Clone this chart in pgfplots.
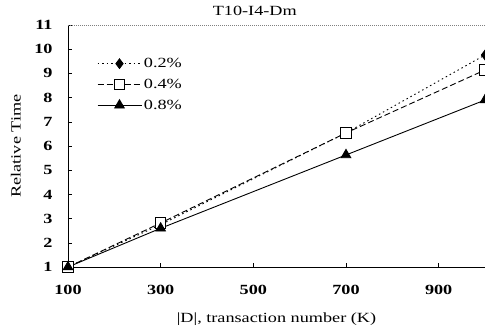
\documentclass[border=0pt]{standalone}
\usepackage{fontspec}
\setmainfont{Liberation Serif}
\usepackage{graphicx}
\usepackage{pgfplots}
\pgfplotsset{compat=1.18}
\newcommand{\wide}[1]{\scalebox{1.3}[1]{#1}}
\begin{document}
\begin{tikzpicture}
\begin{axis}[
 name=ax,
 scale only axis, width=417pt, height=242pt,
 xmin=100, xmax=1000, ymin=1, ymax=11,
 axis x line*=bottom, axis y line*=left,
 axis line style={line width=0.8pt},
 xtick={100,300,500,700,900}, ytick={1,2,3,4,5,6,7,8,9,10,11},
 tick align=inside, major tick length=4pt,
 tick style={black, line width=0.6pt},
 /pgf/number format/assume math mode=true,
 ticklabel style={font=\fontsize{14}{16}\selectfont\bfseries},
 xticklabel={\wide{\pgfmathprintnumber{\tick}}},
 yticklabel={\wide{\pgfmathprintnumber{\tick}}},
 xticklabel style={yshift=-15pt},
 yticklabel style={xshift=-12pt},
 xlabel={\wide{|D|, transaction number (K)}},
 ylabel={\wide{Relative Time}},
 label style={font=\fontsize{14}{16}\selectfont},
 xlabel style={at={(axis description cs:0.5,-0.215)}, anchor=center},
 ylabel style={at={(axis description cs:-0.125,0.5)}, anchor=center},
 title={\wide{T10-I4-Dm}},
 title style={at={(axis description cs:0.448,1.032)}, anchor=center, font=\fontsize{14}{16}\selectfont},
 legend style={draw=none, fill=none, at={(axis description cs:0.062,0.88)}, anchor=north west,
   font=\fontsize{14}{16}\selectfont, row sep=6pt, cells={anchor=west}},
 legend image code/.code={\draw[mark repeat=2,mark phase=2,#1] plot coordinates {(0pt,0pt)(22pt,0pt)(44pt,0pt)};},
]
\addplot[black, line width=0.9pt, dash pattern=on 1.5pt off 3pt, mark=diamond*, mark size=4.8pt, mark options={solid}]
 coordinates {(100,1)(300,2.75)(700,6.54)(1000,9.76)};
\addlegendentry{\wide{0.2\%}}
\addplot[black, line width=0.9pt, dash pattern=on 6pt off 3pt, mark=square*, mark size=5.2pt, mark options={solid, draw=black, fill=white}]
 coordinates {(100,1)(300,2.82)(700,6.54)(1000,9.14)};
\addlegendentry{\wide{0.4\%}}
\addplot[black, line width=0.9pt, mark=triangle*, mark size=5.5pt]
 coordinates {(100,1)(300,2.6)(700,5.63)(1000,7.9)};
\addlegendentry{\wide{0.8\%}}
\draw[dash pattern=on 0.6pt off 1.4pt, gray, line width=0.6pt] (rel axis cs:0,1) -- (rel axis cs:1,1);
\end{axis}
\pgfresetboundingbox
\path ([shift={(-68pt,-66pt)}]ax.south west) rectangle ([shift={(0pt,25pt)}]ax.north east);
\end{tikzpicture}
\end{document}
